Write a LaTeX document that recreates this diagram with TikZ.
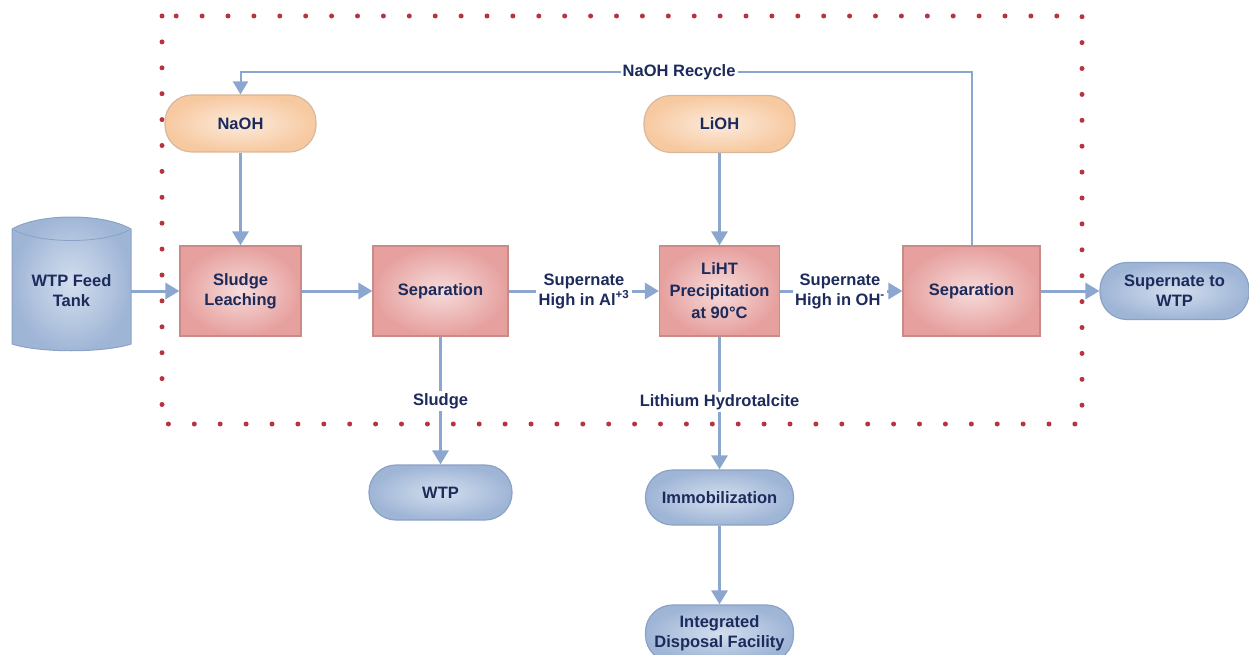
\documentclass[tikz,border=0pt]{standalone}
\usepackage{fontspec}
\setmainfont{Liberation Sans}
\usetikzlibrary{arrows.meta}
\definecolor{txt}{HTML}{1C2A5C}
\definecolor{arr}{HTML}{8BA6CF}
\definecolor{dotc}{HTML}{B5343F}
\definecolor{pinkin}{HTML}{F6DCDB}
\definecolor{pinkout}{HTML}{E6A09E}
\definecolor{pinkbd}{HTML}{C98A88}
\definecolor{orin}{HTML}{FCEBDD}
\definecolor{orout}{HTML}{F7C9A0}
\definecolor{orbd}{HTML}{D8B89C}
\definecolor{blin}{HTML}{D3DEEE}
\definecolor{blout}{HTML}{9FB5D6}
\definecolor{blbd}{HTML}{8AA2C6}
\begin{document}
\begin{tikzpicture}[x=1pt,y=-1pt,
  every node/.style={font=\fontsize{16.5}{20}\selectfont\bfseries, text=txt, align=center},
  proc/.style={draw=pinkbd, line width=1.2pt, inner color=pinkin, outer color=pinkout, minimum height=90pt, inner sep=0pt},
  feed/.style={draw=orbd, line width=1.2pt, inner color=orin, outer color=orout, minimum height=57pt, minimum width=151pt, rounded corners=27pt, inner sep=0pt},
  term/.style={draw=blbd, line width=1.2pt, inner color=blin, outer color=blout, minimum height=56pt, rounded corners=27pt, inner sep=0pt},
  lbl/.style={inner sep=2pt},
  flow/.style={draw=arr, line width=3pt, -{Triangle[length=14pt,width=16pt]}},
  plain/.style={draw=arr, line width=3pt},
  recyc/.style={draw=arr, line width=2pt, -{Triangle[length=13pt,width=15pt]}},
]
\useasboundingbox (0,0) rectangle (1249,655);
\clip (0,0) rectangle (1249,655);

% dotted boundary
\draw[dotc, line width=5pt, line cap=round, dash pattern=on 0pt off 25.9pt] (162,16) rectangle (1082,424);

% tank
\shade[inner color=blin, outer color=blout, draw=blbd, line width=1pt]
  (12,229) .. controls (40,213) and (103,213) .. (131,229) -- (131,344)
  .. controls (103,353) and (40,353) .. (12,344) -- cycle;
\draw[blbd, line width=0.8pt] (14,230) .. controls (40,244) and (103,244) .. (129,230);
\node[minimum width=119pt, minimum height=110pt, inner sep=0pt] (tank) at (71.5,291) {WTP Feed\\Tank};

% process boxes
\node[proc, minimum width=121pt] (leach) at (240.5,291) {Sludge\\Leaching};
\node[proc, minimum width=135pt] (sep1) at (440.5,291) {Separation};
\node[proc, minimum width=120pt, font=\fontsize{16.5}{22}\selectfont\bfseries] (liht) at (719.5,291) {LiHT\\Precipitation\\at 90°C};
\node[proc, minimum width=137pt] (sep2) at (971.5,291) {Separation};

% feeds
\node[feed] (naoh) at (240.5,123.5) {NaOH};
\node[feed] (lioh) at (719.5,124) {LiOH};

% terminals
\node[term, minimum width=149pt, minimum height=57pt] (sup) at (1174.5,291) {Supernate to\\WTP};
\node[term, minimum width=143pt, minimum height=55pt] (wtp) at (440.5,492.5) {WTP};
\node[term, minimum width=148pt, minimum height=55pt] (immo) at (719.5,497.5) {Immobilization};
\node[term, minimum width=148pt, minimum height=57pt] (idf) at (719.5,633.5) {Integrated\\Disposal Facility};

% labels
\node[lbl] (lal) at (584,291) {Supernate\\High in Al\textsuperscript{+3}};
\node[lbl] (loh) at (840,291) {Supernate\\High in OH\textsuperscript{-}};
\node[lbl] (lsl) at (440.5,401) {Sludge};
\node[lbl] (lli) at (719.5,402) {Lithium Hydrotalcite};

% connectors
\draw[flow] (tank.east) -- (leach.west);
\draw[flow] (leach.east) -- (sep1.west);
\draw[plain] (sep1.east) -- (lal.west);
\draw[flow] (lal.east) -- (liht.west);
\draw[plain] (liht.east) -- (loh.west);
\draw[flow] (loh.east) -- (sep2.west);
\draw[flow] (sep2.east) -- (sup.west);
\draw[flow] (naoh.south) -- (leach.north);
\draw[flow] (lioh.south) -- (liht.north);
\draw[plain] (sep1.south) -- (lsl.north);
\draw[flow] (lsl.south) -- (wtp.north);
\draw[plain] (liht.south) -- (lli.north);
\draw[flow] (lli.south) -- (immo.north);
\draw[flow] (immo.south) -- (idf.north);

% recycle
\coordinate (rc1) at (971.5,72);
\coordinate (rc2) at (240.5,72);
\draw[recyc] (sep2.north) -- (rc1) -- node[lbl, fill=white, pos=0.4] (lrec) {NaOH Recycle} (rc2) -- (naoh.north);
\end{tikzpicture}
\end{document}
